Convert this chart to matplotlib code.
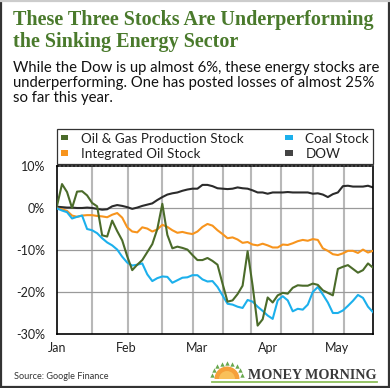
import numpy as np
import matplotlib
matplotlib.use("Agg")
import matplotlib.pyplot as plt
from matplotlib.patches import Patch, Wedge
from matplotlib.lines import Line2D

# ---------------- data ----------------
months = ["Jan", "Feb", "Mar", "Apr", "May"]
month_pos = [0, 13.8, 27.9, 42.0, 55.8]
grid_pos = [7.0, 14.15, 20.9, 27.1, 33.1, 38.7, 44.7, 51.0, 57.2]

oil_gas = [0.5, 5.7, 3.8, 0.0, 3.9, 4.0, 3.0, 1.2, 0.4, -6.5,
           -6.8, -3.0, -5.5, -7.7, -11.5, -14.8, -13.5, -12.4, -10.5, -8.6,
           -5.0, 1.0, -6.4, -9.6, -9.2, -9.5, -9.9, -11.2, -12.4, -12.4,
           -11.9, -12.6, -13.5, -18.0, -22.3, -22.0, -20.5, -18.5, -10.3, -18.5,
           -28.0, -26.5, -21.3, -22.5, -20.8, -20.2, -20.4, -19.0, -18.4, -18.5,
           -18.5, -18.0, -18.3, -19.6, -20.2, -20.8, -14.5, -14.0, -13.6, -14.5,
           -15.4, -14.8, -13.2, -14.2]
coal = [-0.1, -0.6, -1.0, -2.5, -2.1, -1.8, -5.0, -5.3, -6.0, -7.2,
        -8.2, -8.9, -9.9, -11.6, -13.0, -13.7, -13.5, -13.2, -15.8, -17.4,
        -16.7, -16.3, -16.4, -17.8, -17.2, -16.6, -16.5, -16.0, -16.0, -17.0,
        -17.5, -17.4, -18.8, -20.8, -22.8, -23.0, -23.5, -23.8, -21.9, -22.3,
        -23.5, -24.5, -25.6, -26.4, -22.0, -21.0, -22.0, -24.6, -24.0, -24.2,
        -23.0, -20.0, -18.8, -20.6, -22.5, -25.0, -25.0, -24.4, -23.3, -22.1,
        -20.7, -21.4, -23.5, -24.8]
integrated = [-0.1, -0.3, -0.7, -1.8, -2.1, -1.8, -1.7, -1.7, -1.9, -2.0,
              -2.2, -1.6, -1.2, -2.3, -4.6, -5.6, -5.8, -4.6, -4.9, -5.6,
              -5.1, -4.0, -4.5, -5.3, -5.9, -5.7, -6.0, -6.2, -5.6, -4.5,
              -3.8, -4.2, -5.3, -6.2, -7.2, -7.0, -7.5, -8.3, -8.1, -8.7,
              -8.9, -8.5, -8.9, -9.4, -9.4, -8.7, -8.8, -8.4, -7.9, -7.6,
              -7.8, -7.4, -7.6, -9.6, -10.2, -11.0, -11.2, -10.8, -10.2, -10.2,
              -10.7, -9.9, -10.6, -10.2]
dow = [0.3, 0.2, 0.1, 0.1, 0.0, 0.0, 0.1, 0.0, -0.2, -0.4,
       -0.3, 0.4, 0.7, 0.5, 0.2, -0.2, 0.1, 0.5, 0.8, 1.1,
       1.9, 2.6, 3.2, 3.5, 3.7, 4.1, 4.4, 4.6, 4.6, 5.5,
       5.5, 5.2, 4.7, 4.6, 4.5, 4.6, 4.9, 4.7, 4.6, 4.2,
       3.7, 3.7, 3.4, 3.7, 3.7, 3.7, 3.8, 3.7, 3.7, 3.7,
       3.7, 3.4, 3.5, 3.2, 2.6, 3.3, 3.7, 5.2, 5.3, 5.1,
       5.1, 5.1, 5.3, 4.9]

y_ticks = [10, 0, -10, -20, -30]
y_labels = ["10%", "0%", "-10%", "-20%", "-30%"]

series_names = ["Oil & Gas Production Stock", "Integrated Oil Stock", "Coal Stock", "DOW"]

# ---------------- style ----------------
GREEN = "#4b6b2a"
BLUE = "#1cb0ec"
ORANGE = "#f7941d"
BLACK = "#2b2b2b"
TITLE_GREEN = "#4a7a2c"
SANS = ["Lato", "DejaVu Sans"]
SERIF = ["Liberation Serif", "DejaVu Serif"]

W, H = 390, 388
fig = plt.figure(figsize=(W / 100, H / 100), dpi=100)
fig.patch.set_facecolor("white")

def fx(px):
    return px / W

def fy(py):
    return 1 - py / H

# Titles
fig.text(fx(13), fy(25), "These Three Stocks Are Underperforming", family=SERIF,
         weight="bold", size=14.5, color=TITLE_GREEN, va="baseline", ha="left")
fig.text(fx(13), fy(47), "the Sinking Energy Sector", family=SERIF,
         weight="bold", size=14.5, color=TITLE_GREEN, va="baseline", ha="left")
for yy, line in zip([72, 87, 102], ["While the Dow is up almost 6%, these energy stocks are",
                                    "underperforming. One has posted losses of almost 25%",
                                    "so far this year."]):
    fig.text(fx(13), fy(yy), line, family=SANS, size=10.7, color="#111111",
             va="baseline", ha="left")

# Axes
ax = fig.add_axes([fx(57), fy(334), (373 - 57) / W, (334 - 166) / H])
x = np.arange(len(dow))

for gp in grid_pos:
    ax.axvline(gp, color="#b8b8b8", lw=1.5, zorder=0)
for yt in [0, -10, -20]:
    ax.axhline(yt, color="#9a9a9a", lw=0.9, zorder=0)

ax.plot(x, dow, color=BLACK, lw=1.5, zorder=2)
ax.plot(x, integrated, color=ORANGE, lw=1.5, zorder=3)
ax.plot(x, coal, color=BLUE, lw=1.5, zorder=4)
ax.plot(x, oil_gas, color=GREEN, lw=1.5, zorder=5)

ax.set_xlim(0, len(dow) - 1)
ax.set_ylim(-30, 10)
ax.set_yticks(y_ticks)
ax.set_yticklabels(y_labels, family=SANS, size=9, color="#222222")
ax.set_xticks(month_pos)
ax.set_xticklabels(months, family=SANS, size=9, color="#222222")
ax.tick_params(axis="both", length=0)
ax.tick_params(axis="y", pad=8.5)
ax.tick_params(axis="x", pad=5.5)
for s in ["left", "bottom", "right"]:
    ax.spines[s].set_color("black")
    ax.spines[s].set_linewidth(1.2)
ax.spines["top"].set_linestyle((0, (1.2, 1.2)))
ax.spines["top"].set_linewidth(1.2)

handles = [Patch(facecolor=GREEN, edgecolor="none"),
           Patch(facecolor=ORANGE, edgecolor="none"),
           Patch(facecolor=BLUE, edgecolor="none"),
           Patch(facecolor="#444444", edgecolor="none")]
leg = ax.legend(handles, series_names, loc="lower left",
                bbox_to_anchor=(0, 1.012, 1, 0.2), mode="expand", ncol=2,
                frameon=True, fancybox=False, edgecolor="black",
                prop={"family": SANS, "size": 9.7},
                handlelength=0.55, handleheight=0.25, handletextpad=0.95,
                labelspacing=0.25, borderpad=0.3, borderaxespad=0,
                columnspacing=1.0)
leg.get_frame().set_linewidth(0.9)
for t in leg.get_texts():
    t.set_color("#222222")

# Footer
fig.text(fx(14), fy(379), "Source: Google Finance", family=SANS, size=6.6,
         color="#333333", va="baseline", ha="left")
fig.text(fx(376), fy(379), "MONEY MORNING", family=SERIF, weight="bold",
         size=10.2, color="#3a3a3a", va="baseline", ha="right")
fig.add_artist(Line2D([fx(212), fx(377)], [fy(382), fy(382)], color="#8dbf5a",
                      lw=1.3, transform=fig.transFigure))
sun_ax = fig.add_axes([fx(205), fy(384), 44 / W, 30 / H])
sun_ax.set_xlim(0, 44)
sun_ax.set_ylim(0, 30)
sun_ax.axis("off")
sun_ax.add_patch(Wedge((22, 5), 12.5, 0, 180, facecolor="#f6a03a", edgecolor="none"))
sun_ax.add_patch(Wedge((22, 5), 8, 0, 180, facecolor="#f9c05a", edgecolor="none"))
ang = np.linspace(15, 165, 9)
sun_ax.scatter(22 + 16 * np.cos(np.radians(ang)), 5 + 16 * np.sin(np.radians(ang)),
               marker="^", s=10, color="#6aa84f", linewidths=0)

# Frame
for xs, ys, c in [([fx(1), fx(1)], [fy(0), fy(387)], "#333333"),
                  ([fx(389), fx(389)], [fy(0), fy(387)], "#333333"),
                  ([fx(0), fx(390)], [fy(387), fy(387)], "#333333"),
                  ([fx(0), fx(390)], [fy(0.5), fy(0.5)], "#cccccc")]:
    fig.add_artist(Line2D(xs, ys, color=c, lw=1.6, transform=fig.transFigure))

fig.savefig("out.png", dpi=100)
